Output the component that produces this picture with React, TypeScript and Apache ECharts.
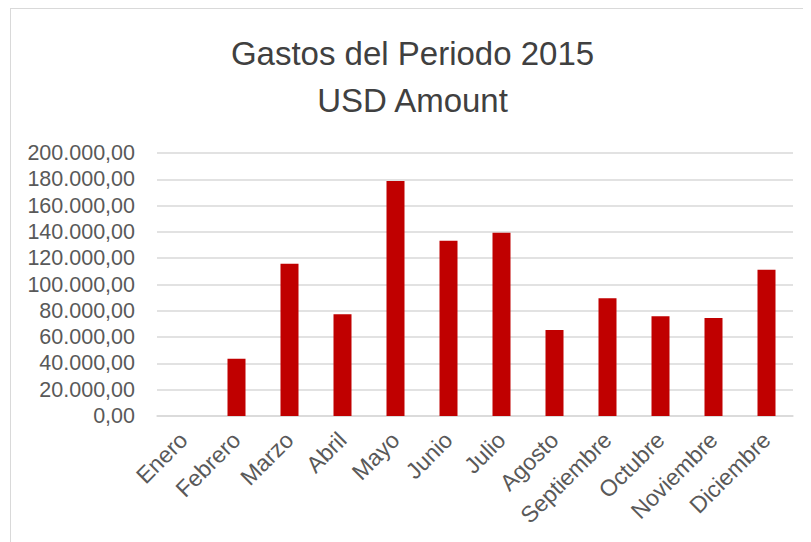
import React, { useEffect, useRef } from "react";
import * as echarts from "echarts";

const months = ["Enero", "Febrero", "Marzo", "Abril", "Mayo", "Junio", "Julio", "Agosto", "Septiembre", "Octubre", "Noviembre", "Diciembre"];
const amounts = [0, 43500, 115800, 77400, 178700, 133300, 139300, 65400, 89600, 75800, 74500, 111200];
const yTicks = { min: 0, max: 200000, interval: 20000 };
const titleLines = ["Gastos del Periodo 2015", "USD Amount"];

function fmt(v: number): string {
  const int = Math.round(v).toString().replace(/\B(?=(\d{3})+(?!\d))/g, ".");
  return int + ",00";
}

export default function App() {
  const ref = useRef<HTMLDivElement>(null);
  useEffect(() => {
    if (!ref.current) return;
    const chart = echarts.init(ref.current, undefined, { renderer: "svg" });
    chart.setOption({
      animation: false,
      backgroundColor: "#ffffff",
      title: {
        text: titleLines.join("\n"),
        left: "center",
        top: 16,
        textStyle: {
          fontFamily: "Liberation Sans",
          fontSize: 33,
          fontWeight: "normal",
          color: "#404040",
          lineHeight: 47,
        },
      },
      grid: { left: 146, right: 21, top: 144, bottom: 127 },
      xAxis: {
        type: "category",
        data: months,
        axisLine: { show: true, lineStyle: { color: "#d9d9d9", width: 1.5 } },
        axisTick: { show: false },
        axisLabel: {
          rotate: 45,
          interval: 0,
          margin: 20,
          fontFamily: "Liberation Sans",
          fontSize: 23,
          color: "#595959",
        },
      },
      yAxis: {
        type: "value",
        min: yTicks.min,
        max: yTicks.max,
        interval: yTicks.interval,
        axisLine: { show: false },
        axisTick: { show: false },
        splitLine: { lineStyle: { color: "#d9d9d9", width: 1.5 } },
        axisLabel: {
          formatter: (v: number) => fmt(v),
          margin: 22,
          fontFamily: "Liberation Sans",
          fontSize: 21.5,
          color: "#595959",
        },
      },
      series: [
        {
          type: "bar",
          data: amounts,
          barWidth: 18,
          itemStyle: { color: "#C00000" },
        },
      ],
    });
    return () => chart.dispose();
  }, []);
  return (
    <div
      ref={ref}
      style={{ width: 803, height: 534, marginLeft: 2, border: "1px solid #d9d9d9" }}
    />
  );
}
